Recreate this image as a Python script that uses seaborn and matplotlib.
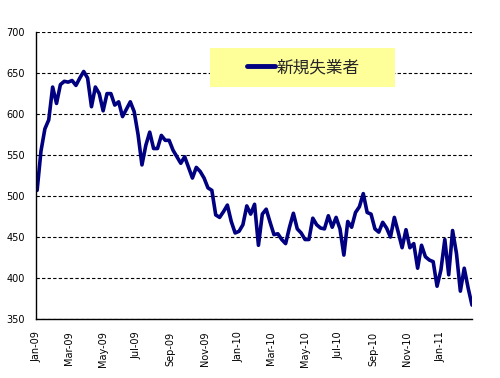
import pandas as pd
import numpy as np
import matplotlib
matplotlib.use("Agg")
import matplotlib.pyplot as plt
import matplotlib.dates as mdates
from matplotlib.patches import Rectangle
import seaborn as sns

# 週次データ (千人), 2009-01-03 から 2011-02-26 まで
start_date = "2009-01-03"
claims = [
    507, 555, 582, 593, 633, 613, 636, 640, 639, 641,
    635, 644, 652, 644, 609, 633, 625, 604, 625, 625,
    611, 615, 597, 606, 615, 603, 575, 538, 562, 578,
    558, 558, 574, 568, 568, 556, 548, 540, 548, 535,
    522, 535, 530, 522, 510, 507, 477, 474, 481, 489,
    469, 455, 457, 465, 488, 478, 490, 440, 478, 484,
    468, 453, 454, 447, 442, 462, 479, 460, 455, 447,
    447, 473, 465, 461, 460, 476, 462, 474, 460, 428,
    469, 462, 480, 487, 503, 480, 478, 460, 456, 468,
    461, 450, 474, 456, 437, 459, 437, 442, 412, 440,
    426, 422, 420, 390, 410, 447, 404, 458, 430, 384,
    412, 388, 367,
]
series_name = "新規失業者"
y_ticks = [350, 400, 450, 500, 550, 600, 650, 700]

dates = pd.date_range(start_date, periods=len(claims), freq="W-SAT")
df = pd.DataFrame({"date": dates, series_name: claims})

sns.set_style("white")
plt.rcParams["font.family"] = ["DejaVu Sans", "Noto Sans CJK JP"]

fig = plt.figure(figsize=(5.0, 3.78), dpi=100)
ax = fig.add_axes([0.072, 0.156, 0.872, 0.759])

sns.lineplot(data=df, x="date", y=series_name, ax=ax, color="#000080",
             linewidth=2.6, label=series_name)

ax.set_ylim(350, 700)
ax.set_yticks(y_ticks)
ax.set_xlim(pd.Timestamp("2009-01-01"), dates[-1])
ax.xaxis.set_major_locator(mdates.MonthLocator(bymonth=[1, 3, 5, 7, 9, 11]))
ax.xaxis.set_major_formatter(mdates.DateFormatter("%b-%y"))
ax.set_xlabel("")
ax.set_ylabel("")

ax.yaxis.grid(True, linestyle=(0, (3, 2)), color="black", linewidth=0.8)
ax.xaxis.grid(False)
ax.set_axisbelow(True)

for side in ["top", "right"]:
    ax.spines[side].set_visible(False)
for side in ["left", "bottom"]:
    ax.spines[side].set_color("black")
    ax.spines[side].set_linewidth(1.0)

ax.tick_params(axis="y", length=0, pad=8, labelsize=7, colors="black")
ax.tick_params(axis="x", direction="in", length=3, width=0.8, pad=9,
               labelsize=7, colors="black", labelrotation=90)

# 凡例の黄色い箱
box = Rectangle((0.42, 0.770), 0.37, 0.103, transform=fig.transFigure,
                facecolor="#FFFF99", edgecolor="none", zorder=3)
ax.add_patch(box)
box.set_clip_on(False)

leg = ax.legend(loc="center", bbox_to_anchor=(0.607, 0.821),
                bbox_transform=fig.transFigure, frameon=False,
                handlelength=1.7, handletextpad=0.1, borderpad=0.2,
                prop={"family": ["Noto Sans CJK JP"], "size": 12})
leg.set_zorder(4)
for line in leg.get_lines():
    line.set_linewidth(3.5)

plt.savefig("out.png", dpi=100)
